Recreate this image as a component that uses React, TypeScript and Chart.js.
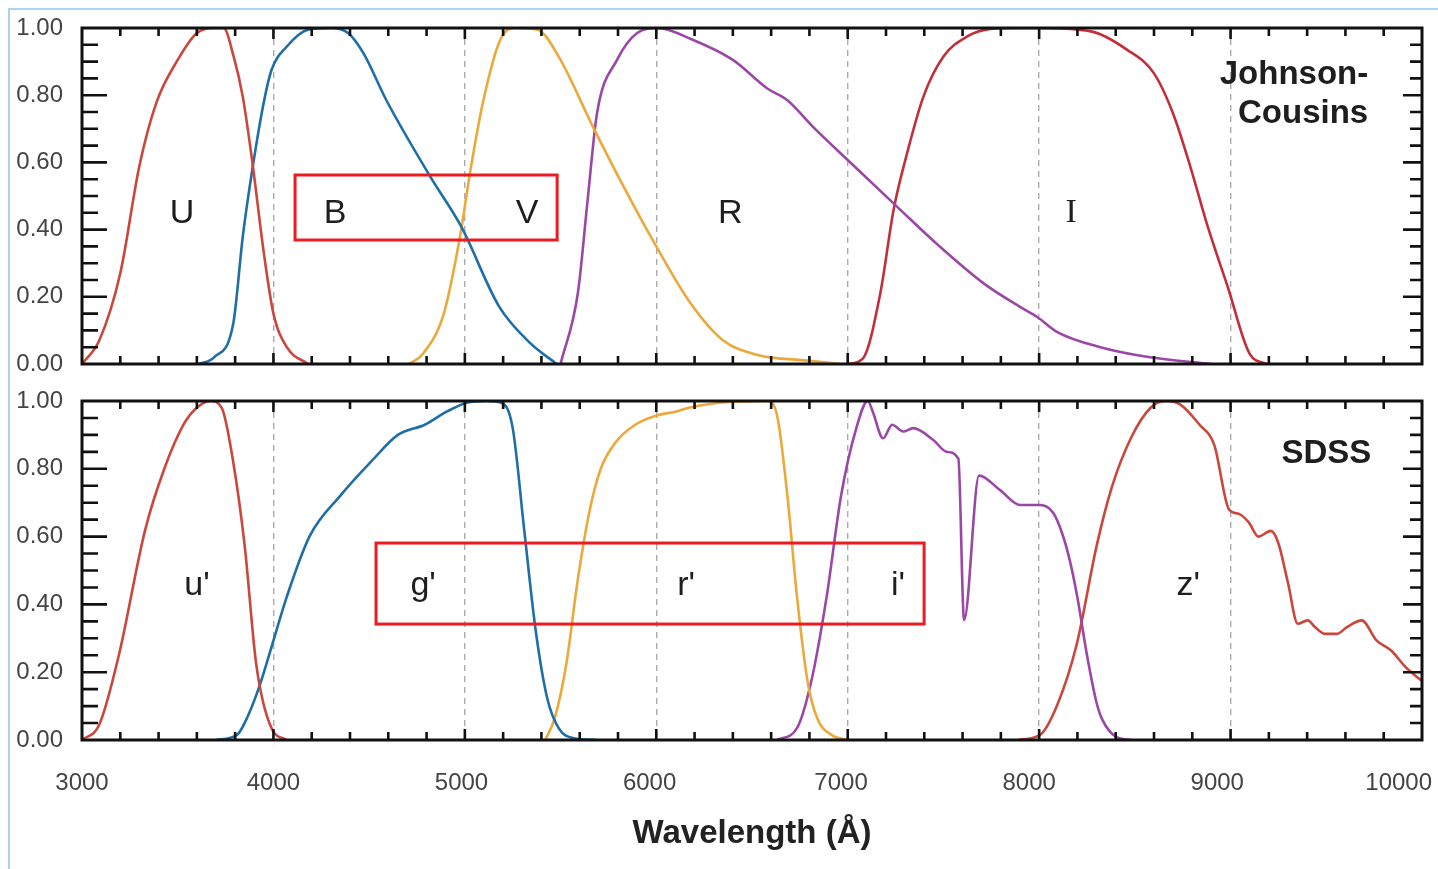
import React, { useEffect, useRef } from 'react';
import { Chart, registerables } from 'chart.js';

Chart.register(...registerables);

// ---------- Johnson-Cousins (top panel) ----------
const U_WL = [3000, 3090, 3200, 3300, 3390, 3500, 3600, 3690, 3740, 3790, 3840, 3890, 3950, 4000, 4070, 4180];
const U_T = [0.0, 0.07, 0.27, 0.59, 0.78, 0.905, 0.985, 1.0, 1.0, 0.92, 0.795, 0.6, 0.33, 0.15, 0.05, 0.0];

const B_WL = [3610, 3690, 3790, 3840, 3890, 3950, 3990, 4070, 4180, 4300, 4390, 4470, 4590, 4820, 4980, 5180, 5340, 5480];
const B_T = [0.0, 0.02, 0.12, 0.38, 0.58, 0.78, 0.875, 0.945, 0.995, 1.0, 0.985, 0.925, 0.785, 0.557, 0.41, 0.17, 0.063, 0.0];

const V_WL = [4710, 4780, 4890, 4975, 5030, 5095, 5185, 5270, 5380, 5490, 5670, 5830, 6000, 6180, 6350, 6530, 6790, 6960];
const V_T = [0.0, 0.03, 0.15, 0.38, 0.58, 0.78, 0.965, 1.0, 0.995, 0.915, 0.705, 0.527, 0.35, 0.18, 0.07, 0.027, 0.01, 0.0];

const R_WL = [5500, 5590, 5640, 5690, 5795, 5900, 6005, 6190, 6400, 6580, 6685, 6820, 7000, 7260, 7480, 7710, 7900, 7990, 8095, 8320, 8580, 8900];
const R_T = [0.0, 0.21, 0.48, 0.745, 0.905, 0.985, 1.0, 0.965, 0.905, 0.82, 0.785, 0.705, 0.607, 0.467, 0.35, 0.24, 0.17, 0.14, 0.095, 0.05, 0.02, 0.0];

const I_WL = [7000, 7080, 7170, 7240, 7310, 7395, 7500, 7625, 7745, 7900, 7970, 8270, 8460, 8600, 8700, 8790, 8880, 8985, 9100, 9190];
const I_T = [0.0, 0.017, 0.21, 0.46, 0.627, 0.795, 0.915, 0.975, 0.997, 1.0, 1.0, 0.99, 0.935, 0.865, 0.745, 0.587, 0.41, 0.23, 0.03, 0.0];

// ---------- SDSS (bottom panel) ----------
const u_WL = [3000, 3090, 3190, 3330, 3430, 3530, 3590, 3670, 3730, 3790, 3850, 3910, 3990, 4070];
const u_T = [0.0, 0.045, 0.244, 0.62, 0.8, 0.93, 0.975, 1.0, 0.98, 0.82, 0.572, 0.224, 0.035, 0.0];

const g_WL = [3700, 3810, 3870, 3930, 3990, 4070, 4190, 4350, 4510, 4650, 4790, 4910, 5010, 5110, 5190, 5250, 5310, 5370, 5430, 5490, 5570, 5690];
const g_T = [0.0, 0.015, 0.075, 0.164, 0.274, 0.423, 0.602, 0.721, 0.821, 0.9, 0.93, 0.97, 0.995, 1.0, 0.995, 0.92, 0.62, 0.323, 0.124, 0.035, 0.005, 0.0];

const r_WL = [5420, 5470, 5530, 5590, 5650, 5710, 5790, 5890, 5990, 6110, 6170, 6330, 6580, 6630, 6685, 6735, 6790, 6840, 6915, 7000];
const r_T = [0.0, 0.065, 0.224, 0.473, 0.672, 0.8, 0.88, 0.93, 0.955, 0.97, 0.98, 0.995, 1.0, 0.96, 0.72, 0.423, 0.174, 0.065, 0.015, 0.0];

const i_WL = [6630, 6735, 6810, 6890, 6965, 7045, 7105, 7130, 7185, 7232, 7290, 7342, 7447, 7518, 7578, 7608, 7686, 7796, 7901, 8005, 8073, 8120, 8160, 8200, 8250, 8300, 8330, 8400, 8480];
const i_T = [0.0, 0.035, 0.174, 0.423, 0.72, 0.92, 1.0, 0.97, 0.89, 0.93, 0.91, 0.92, 0.885, 0.85, 0.83, 0.354, 0.78, 0.737, 0.693, 0.693, 0.67, 0.61, 0.53, 0.42, 0.25, 0.11, 0.06, 0.01, 0.0];

const z_WL = [7890, 8005, 8095, 8197, 8300, 8377, 8479, 8582, 8659, 8736, 8838, 8915, 8992, 9044, 9095, 9146, 9210, 9249, 9300, 9351, 9403, 9441, 9492, 9556, 9608, 9685, 9762, 9839, 9916, 10000];
const z_T = [0.0, 0.015, 0.104, 0.284, 0.572, 0.741, 0.89, 0.98, 1.0, 0.99, 0.93, 0.87, 0.68, 0.667, 0.642, 0.6, 0.617, 0.582, 0.463, 0.343, 0.353, 0.333, 0.313, 0.313, 0.333, 0.353, 0.294, 0.264, 0.214, 0.174];

// ---------- axes ----------
const X_MIN = 3000;
const X_MAX = 10000;
const X_STEP = 1000;
const X_MINOR = 200;
const Y_MIN = 0;
const Y_MAX = 1;
const Y_STEP = 0.2;
const Y_MINOR = 0.05;
const X_TITLE = 'Wavelength (Å)';
// trailing spaces nudge the right-hand tick labels left, as in the source figure
const X_LABEL_PAD: Record<number, number> = { 3000: 0, 4000: 0, 5000: 1, 6000: 2, 7000: 2, 8000: 3, 9000: 4, 10000: 7 };

const TOP_NAMES = ['U', 'B', 'V', 'R', 'I'];
const BOTTOM_NAMES = ["u'", "g'", "r'", "i'", "z'"];

const RED = '#c9473d';
const BLUE = '#1f6ea6';
const ORANGE = '#eba93c';
const PURPLE = '#9a47a6';
const DARKRED = '#c1303a';

const SANS = '"Liberation Sans", Arial, Helvetica, sans-serif';

function pts(wl: number[], t: number[]) {
  return wl.map((w, i) => ({ x: w, y: t[i] }));
}

function lineDs(label: string, wl: number[], t: number[], color: string) {
  return {
    label,
    data: pts(wl, t),
    borderColor: color,
    backgroundColor: color,
    borderWidth: 2.6,
    pointRadius: 0,
    cubicInterpolationMode: 'monotone' as const,
    fill: false,
  };
}

function zeroPad(s: any) {
  s.paddingLeft = 0;
  s.paddingRight = 0;
  s.paddingTop = 0;
  s.paddingBottom = 0;
}

const decorPlugin = {
  id: 'decor',
  afterDatasetsDraw(chart: any, _args: any, opts: any) {
    const { ctx, chartArea: a } = chart;
    const xs = chart.scales.x;
    const ys = chart.scales.y;
    ctx.save();

    // red highlight boxes
    (opts.boxes || []).forEach((b: any) => {
      const x0 = xs.getPixelForValue(b.x0);
      const x1 = xs.getPixelForValue(b.x1);
      const y0 = ys.getPixelForValue(b.y0);
      const y1 = ys.getPixelForValue(b.y1);
      ctx.strokeStyle = '#ec1b1f';
      ctx.lineWidth = 3;
      ctx.strokeRect(x0, y1, x1 - x0, y0 - y1);
    });

    // band labels
    (opts.labels || []).forEach((l: any) => {
      ctx.fillStyle = '#1e1e1e';
      ctx.font = l.font;
      ctx.textAlign = l.align || 'center';
      ctx.textBaseline = 'middle';
      ctx.fillText(l.text, xs.getPixelForValue(l.x), ys.getPixelForValue(l.y));
    });

    // inward ticks
    ctx.strokeStyle = '#111';
    ctx.lineWidth = 2.6;
    ctx.beginPath();
    for (let w = X_MIN + X_MINOR; w < X_MAX; w += X_MINOR) {
      const px = xs.getPixelForValue(w);
      const len = w % X_STEP === 0 ? 11 : 8;
      ctx.moveTo(px, a.top);
      ctx.lineTo(px, a.top + len);
      ctx.moveTo(px, a.bottom);
      ctx.lineTo(px, a.bottom - len);
    }
    const n = Math.round((Y_MAX - Y_MIN) / Y_MINOR);
    const perMajor = Math.round(Y_STEP / Y_MINOR);
    for (let k = 1; k < n; k++) {
      const py = ys.getPixelForValue(Y_MIN + k * Y_MINOR);
      const major = k % perMajor === 0;
      ctx.moveTo(a.left, py);
      ctx.lineTo(a.left + (major ? 25 : 16), py);
      ctx.moveTo(a.right, py);
      ctx.lineTo(a.right - (major ? 19 : 12), py);
    }
    ctx.stroke();

    // frame
    ctx.lineWidth = 3;
    ctx.strokeStyle = '#111';
    ctx.strokeRect(a.left, a.top, a.right - a.left, a.bottom - a.top);
    ctx.restore();
  },
};

function makeConfig(bottom: boolean) {
  const datasets = bottom
    ? [
        lineDs(BOTTOM_NAMES[0], u_WL, u_T, RED),
        lineDs(BOTTOM_NAMES[1], g_WL, g_T, BLUE),
        lineDs(BOTTOM_NAMES[2], r_WL, r_T, ORANGE),
        lineDs(BOTTOM_NAMES[3], i_WL, i_T, PURPLE),
        lineDs(BOTTOM_NAMES[4], z_WL, z_T, RED),
      ]
    : [
        lineDs(TOP_NAMES[0], U_WL, U_T, RED),
        lineDs(TOP_NAMES[1], B_WL, B_T, BLUE),
        lineDs(TOP_NAMES[2], V_WL, V_T, ORANGE),
        lineDs(TOP_NAMES[3], R_WL, R_T, PURPLE),
        lineDs(TOP_NAMES[4], I_WL, I_T, DARKRED),
      ];

  const labelFont = `34px ${SANS}`;
  const boldFont = `bold 33px ${SANS}`;
  const decor = bottom
    ? {
        boxes: [{ x0: 4536, x1: 7399, y0: 0.342, y1: 0.581 }],
        labels: [
          { text: BOTTOM_NAMES[0], x: 3601, y: 0.454, font: labelFont },
          { text: BOTTOM_NAMES[1], x: 4782, y: 0.454, font: labelFont },
          { text: BOTTOM_NAMES[2], x: 6156, y: 0.454, font: labelFont },
          { text: BOTTOM_NAMES[3], x: 7263, y: 0.454, font: labelFont },
          { text: BOTTOM_NAMES[4], x: 8779, y: 0.454, font: labelFont },
          { text: 'SDSS', x: 9735, y: 0.845, font: boldFont, align: 'right' },
        ],
      }
    : {
        boxes: [{ x0: 4113, x1: 5482, y0: 0.369, y1: 0.5625 }],
        labels: [
          { text: TOP_NAMES[0], x: 3522, y: 0.449, font: labelFont },
          { text: TOP_NAMES[1], x: 4322, y: 0.449, font: labelFont },
          { text: TOP_NAMES[2], x: 5325, y: 0.449, font: labelFont },
          { text: TOP_NAMES[3], x: 6386, y: 0.449, font: labelFont },
          { text: TOP_NAMES[4], x: 8167, y: 0.449, font: '34px "Liberation Serif", "Times New Roman", serif' },
          { text: 'Johnson-', x: 9719, y: 0.86, font: boldFont, align: 'right' },
          { text: 'Cousins', x: 9719, y: 0.744, font: boldFont, align: 'right' },
        ],
      };

  return {
    type: 'line' as const,
    data: { datasets },
    options: {
      animation: false as const,
      responsive: false,
      devicePixelRatio: 1,
      layout: { padding: { left: 0, right: 16, top: bottom ? 21 : 28, bottom: 0 } },
      plugins: {
        legend: { display: false },
        tooltip: { enabled: false },
        decor,
      },
      scales: {
        x: {
          type: 'linear' as const,
          min: X_MIN,
          max: X_MAX,
          afterFit: (s: any) => {
            s.height = bottom ? 129 : 16;
            zeroPad(s);
          },
          ticks: {
            display: bottom,
            stepSize: X_STEP,
            padding: 29,
            color: '#444',
            font: { size: 24, family: SANS },
            maxRotation: 0,
            autoSkip: false,
            callback: (v: any) => String(v) + ' '.repeat(X_LABEL_PAD[Number(v)] || 0),
          },
          grid: {
            drawTicks: false,
            lineWidth: 1.4,
            color: (c: any) =>
              c.tick && (c.tick.value === X_MIN || c.tick.value === X_MAX) ? 'rgba(0,0,0,0)' : '#aaaaaa',
          },
          border: { display: false, dash: [6, 5] },
          title: {
            display: bottom,
            text: X_TITLE,
            color: '#222',
            font: { size: 33, weight: 'bold' as const, family: SANS },
            padding: { top: 0, bottom: 15 },
          },
        },
        y: {
          type: 'linear' as const,
          min: Y_MIN,
          max: Y_MAX,
          afterFit: (s: any) => {
            s.width = 82;
            zeroPad(s);
          },
          ticks: {
            stepSize: Y_STEP,
            padding: 19,
            color: '#444',
            font: { size: 24, family: SANS },
            callback: (v: any) => Number(v).toFixed(2),
          },
          grid: { display: false, drawTicks: false },
          border: { display: false },
        },
      },
    },
    plugins: [decorPlugin],
  };
}

function Panel({ bottom, top, height }: { bottom: boolean; top: number; height: number }) {
  const ref = useRef<HTMLCanvasElement | null>(null);
  useEffect(() => {
    if (!ref.current) return;
    const chart = new Chart(ref.current, makeConfig(bottom) as any);
    return () => chart.destroy();
  }, [bottom]);
  return (
    <canvas
      ref={ref}
      width={1438}
      height={height}
      style={{ position: 'absolute', left: 0, top, width: 1438, height }}
    />
  );
}

export default function App() {
  return (
    <div
      style={{
        position: 'absolute',
        left: 0,
        top: 0,
        width: 1438,
        height: 869,
        overflow: 'hidden',
        background: '#ffffff',
      }}
    >
      <div
        style={{
          position: 'absolute',
          left: 8,
          top: 8,
          width: 1460,
          height: 900,
          borderLeft: '2px solid #a9d4f6',
          borderTop: '2px solid #a9d4f6',
        }}
      />
      <Panel bottom={false} top={0} height={380} />
      <Panel bottom={true} top={380} height={489} />
    </div>
  );
}
